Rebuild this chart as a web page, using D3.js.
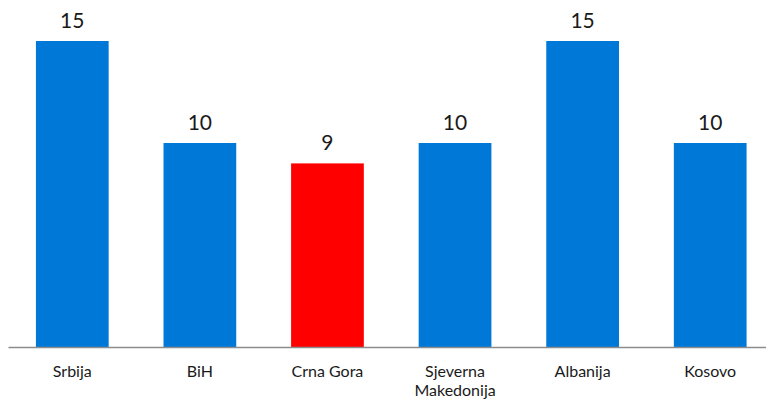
<!DOCTYPE html>
<html><head><meta charset="utf-8">
<script src="https://cdn.jsdelivr.net/npm/d3@7"></script>
<style>body{margin:0;background:#fff}svg{display:block}</style>
</head><body><svg id="c" width="766" height="402"></svg>
<script>
const categories = [["Srbija"],["BiH"],["Crna Gora"],["Sjeverna","Makedonija"],["Albanija"],["Kosovo"]];
const values = [15,10,9,10,15,10];
const colors = ["#0078D7","#0078D7","#FF0000","#0078D7","#0078D7","#0078D7"];

const svg = d3.select("#c");
const font = "Lato, 'Open Sans', sans-serif";
const x = d3.scaleBand().domain(d3.range(categories.length)).range([8.5, 774]).paddingInner(0.43).paddingOuter(0.215);
const y = d3.scaleLinear().domain([0,15]).range([347,41]);

svg.selectAll("rect.bar").data(values).join("rect")
  .attr("x",(d,i)=>x(i)).attr("width",x.bandwidth())
  .attr("y",d=>y(d)).attr("height",d=>y(0)-y(d))
  .attr("fill",(d,i)=>colors[i]);

svg.append("line").attr("x1",8.5).attr("x2",766).attr("y1",y(0)+0.5).attr("y2",y(0)+0.5)
  .attr("stroke","#8c8c8c").attr("stroke-width",1.3);

svg.selectAll("text.val").data(values).join("text")
  .attr("x",(d,i)=>x(i)+x.bandwidth()/2).attr("y",d=>y(d)-13)
  .attr("text-anchor","middle").attr("font-family",font).attr("font-size",21).attr("fill","#1a1a1a")
  .text(d=>d);

const lab = svg.selectAll("text.cat").data(categories).join("text")
  .attr("x",(d,i)=>x(i)+x.bandwidth()/2).attr("y",377)
  .attr("text-anchor","middle").attr("font-family",font).attr("font-size",16).attr("fill","#1a1a1a");
lab.each(function(d,i){
  const t=d3.select(this);
  d.forEach((s,j)=>t.append("tspan").attr("x",x(i)+x.bandwidth()/2).attr("dy",j?19:0).text(s));
});
</script></body></html>
